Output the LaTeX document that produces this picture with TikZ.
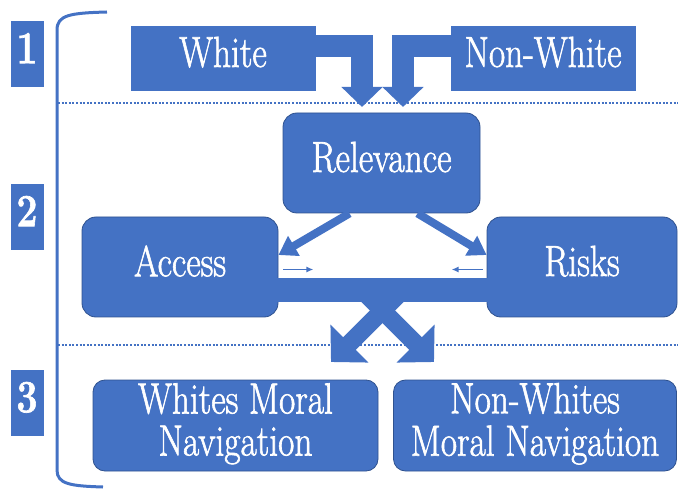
\documentclass[tikz,border=0pt]{standalone}
\usetikzlibrary{arrows.meta}
\definecolor{boxblue}{HTML}{4472C4}
\definecolor{edgeblue}{HTML}{2F528F}
% slide text: stretched vertically, a bit heavier
\newcommand\tall[1]{\special{pdf:literal 2 Tr 0.55 w}%
  \scalebox{1.04}[1.28]{\begin{tabular}{@{}c@{}}#1\end{tabular}}%
  \special{pdf:literal 0 Tr 0.4 w}}

\begin{document}
\begin{tikzpicture}[x=1pt,y=-1pt,
    block/.style={fill=boxblue,draw=boxblue,text=white,inner sep=0pt,
      font=\fontsize{34}{32}\selectfont},
    rblock/.style={block,draw=edgeblue,line width=0.8pt,rounded corners=14pt},
    numbox/.style={fill=boxblue,text=white,inner sep=0pt,minimum width=33pt,
      minimum height=66pt,font=\fontsize{36}{36}\selectfont\bfseries},
    bigarrow/.style={draw=boxblue,line width=22pt,line join=miter,
      -{Triangle[length=20pt,width=40pt]}},
    midarrow/.style={draw=boxblue,line width=8pt,-{Triangle[length=18pt,width=22pt]}},
    fatarrow/.style={draw=boxblue,line width=18pt,-{Triangle[length=26pt,width=52pt]}},
    thinarrow/.style={draw=boxblue,line width=1.5pt,-{Latex[length=7pt,width=6pt]}},
    sep/.style={draw=boxblue,line width=2pt,dash pattern=on 2pt off 1.6pt}]
  \useasboundingbox (0,0) rectangle (678,489);

  % level brace and numbers
  \draw[boxblue,line width=3pt] (107,12) .. controls (70,13) and (57,15) .. (57,30)
     -- (57,470) .. controls (57,484) and (70,486) .. (103,487);
  \node[numbox] (one) at (27,54) {\tall{1}};
  \node[numbox] (two) at (27,217) {\tall{2}};
  \node[numbox] (three) at (27,403) {\tall{3}};

  % dotted separators
  \coordinate (s1a) at (58,103); \coordinate (s1b) at (678,103);
  \coordinate (s2a) at (58,345); \coordinate (s2b) at (678,345);
  \draw[sep] (s1a) -- (s1b);
  \draw[sep] (s2a) -- (s2b);

  % level 1
  \node[block,minimum width=184pt,minimum height=64pt] (white) at (223,58) {\tall{White}};
  \node[block,minimum width=184pt,minimum height=64pt] (nonwhite) at (543,58) {\tall{Non-White}};
  \coordinate (wtip) at (362,107);
  \coordinate (ntip) at (403,107);
  \draw[bigarrow] ([yshift=12pt]white.east) -| (wtip);
  \draw[bigarrow] ([yshift=12pt]nonwhite.west) -| (ntip);

  % level 2
  \node[rblock,minimum width=197pt,minimum height=100pt] (relevance) at (381.5,163) {\tall{Relevance}};
  \node[rblock,minimum width=196pt,minimum height=100pt] (access) at (180,267) {\tall{Access}};
  \node[rblock,minimum width=190pt,minimum height=100pt] (risks) at (582,267) {\tall{Risks}};
  \draw[midarrow] ([xshift=-32pt]relevance.south) -- ([yshift=12pt]access.east);
  \draw[midarrow] ([xshift=36pt]relevance.south) -- ([yshift=12pt]risks.west);
  \draw[thinarrow] ([xshift=5pt,yshift=-2.5pt]access.east) -- ++(30,0);
  \draw[thinarrow] ([xshift=-4pt,yshift=-2.5pt]risks.west) -- ++(-31,0);
  \draw[boxblue,line width=24pt] ([xshift=-2pt,yshift=-23pt]access.east)
     -- ([xshift=2pt,yshift=-23pt]risks.west);

  % split into level 3
  \coordinate (lsplit) at (401,292); \coordinate (ltip) at (331,362);
  \coordinate (rsplit) at (364,292); \coordinate (rtip) at (434,362);
  \draw[fatarrow] (lsplit) -- (ltip);
  \draw[fatarrow] (rsplit) -- (rtip);

  % level 3
  \node[rblock,rounded corners=12pt,minimum width=285pt,minimum height=91pt] (whitenav)
     at (235.5,425.5) {\tall{Whites Moral\\Navigation}};
  \node[rblock,rounded corners=12pt,minimum width=283pt,minimum height=91pt] (nonwhitenav)
     at (535,425.5) {\tall{Non-Whites\\Moral Navigation}};
\end{tikzpicture}
\end{document}
